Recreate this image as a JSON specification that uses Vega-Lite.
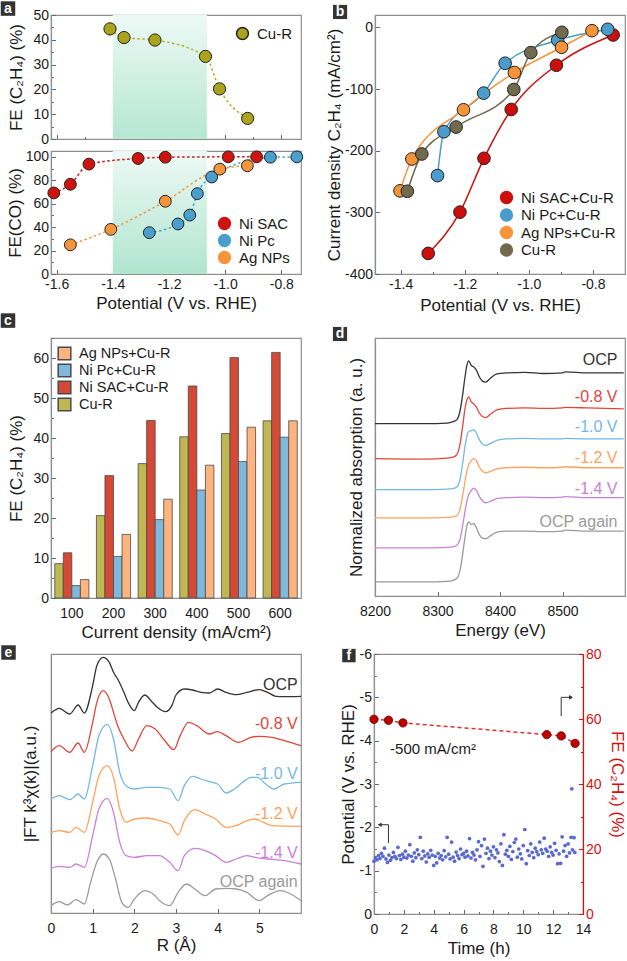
{
"$schema": "https://vega.github.io/schema/vega-lite/v6.json",
"padding": 0,
"background": "white",
"config": {
  "font": "Liberation Sans",
  "view": {"stroke": "#8f8f8f", "strokeWidth": 1.2},
  "axis": {"labelFont": "Liberation Sans", "titleFont": "Liberation Sans", "labelFontSize": 14, "titleFontSize": 17, "titleFontWeight": "normal", "labelColor": "#1a1a1a", "titleColor": "#1a1a1a", "domainColor": "#8f8f8f", "domainWidth": 1.2, "tickColor": "#666666", "tickWidth": 1, "grid": false, "labelFlush": false, "labelOverlap": false, "labelPadding": 3, "titlePadding": 4},
  "axisX": {"labelOverlap": false},
  "axisY": {"labelOverlap": false},
  "legend": {"labelFont": "Liberation Sans", "labelFontSize": 15, "labelColor": "#1a1a1a"},
  "text": {"font": "Liberation Sans"}
},
"datasets": {
  "aTop": [
    {"series": "Cu-R", "potential": -1.41, "fe": 44.4},
    {"series": "Cu-R", "potential": -1.36, "fe": 40.9},
    {"series": "Cu-R", "potential": -1.25, "fe": 39.9},
    {"series": "Cu-R", "potential": -1.07, "fe": 33.3},
    {"series": "Cu-R", "potential": -1.02, "fe": 20.2},
    {"series": "Cu-R", "potential": -0.92, "fe": 8.3}
  ],
  "aBot": [
    {"series": "Ni SAC", "potential": -1.61, "fe": 69.2},
    {"series": "Ni SAC", "potential": -1.551, "fe": 76.6},
    {"series": "Ni SAC", "potential": -1.485, "fe": 93.8},
    {"series": "Ni SAC", "potential": -1.31, "fe": 98.6},
    {"series": "Ni SAC", "potential": -1.213, "fe": 99.7},
    {"series": "Ni SAC", "potential": -0.989, "fe": 100},
    {"series": "Ni SAC", "potential": -0.888, "fe": 100},
    {"series": "Ni Pc", "potential": -1.27, "fe": 35.3},
    {"series": "Ni Pc", "potential": -1.168, "fe": 42.7},
    {"series": "Ni Pc", "potential": -1.126, "fe": 50.3},
    {"series": "Ni Pc", "potential": -1.099, "fe": 68.6},
    {"series": "Ni Pc", "potential": -1.048, "fe": 82.8},
    {"series": "Ni Pc", "potential": -0.839, "fe": 99.7},
    {"series": "Ni Pc", "potential": -0.745, "fe": 100},
    {"series": "Ag NPs", "potential": -1.551, "fe": 24.9},
    {"series": "Ag NPs", "potential": -1.407, "fe": 38.1},
    {"series": "Ag NPs", "potential": -1.213, "fe": 62.1},
    {"series": "Ag NPs", "potential": -1.019, "fe": 89.5},
    {"series": "Ag NPs", "potential": -0.921, "fe": 92.4}
  ],
  "bData": [
    {"series": "Ni SAC+Cu-R", "potential": -1.314, "j": -366.6},
    {"series": "Ni SAC+Cu-R", "potential": -1.215, "j": -299.7},
    {"series": "Ni SAC+Cu-R", "potential": -1.14, "j": -212.4},
    {"series": "Ni SAC+Cu-R", "potential": -1.055, "j": -133.2},
    {"series": "Ni SAC+Cu-R", "potential": -0.914, "j": -61.5},
    {"series": "Ni SAC+Cu-R", "potential": -0.737, "j": -12.4},
    {"series": "Ni Pc+Cu-R", "potential": -1.285, "j": -240.4},
    {"series": "Ni Pc+Cu-R", "potential": -1.265, "j": -169.3},
    {"series": "Ni Pc+Cu-R", "potential": -1.141, "j": -106.7},
    {"series": "Ni Pc+Cu-R", "potential": -1.074, "j": -58.2},
    {"series": "Ni Pc+Cu-R", "potential": -0.91, "j": -21.0},
    {"series": "Ni Pc+Cu-R", "potential": -0.754, "j": -3.2},
    {"series": "Ag NPs+Cu-R", "potential": -1.402, "j": -265.2},
    {"series": "Ag NPs+Cu-R", "potential": -1.365, "j": -213.5},
    {"series": "Ag NPs+Cu-R", "potential": -1.204, "j": -133.7},
    {"series": "Ag NPs+Cu-R", "potential": -1.045, "j": -73.3},
    {"series": "Ag NPs+Cu-R", "potential": -0.898, "j": -32.3},
    {"series": "Ag NPs+Cu-R", "potential": -0.803, "j": -5.4},
    {"series": "Cu-R", "potential": -1.379, "j": -265.8},
    {"series": "Cu-R", "potential": -1.334, "j": -205.4},
    {"series": "Cu-R", "potential": -1.227, "j": -161.7},
    {"series": "Cu-R", "potential": -1.047, "j": -100.8},
    {"series": "Cu-R", "potential": -0.994, "j": -41.0},
    {"series": "Cu-R", "potential": -0.897, "j": -8.1}
  ],
  "cData": [
    {"density": 100, "cat": "Cu-R", "fe": 8.6}, {"density": 100, "cat": "Ni SAC+Cu-R", "fe": 11.3}, {"density": 100, "cat": "Ni Pc+Cu-R", "fe": 3.1}, {"density": 100, "cat": "Ag NPs+Cu-R", "fe": 4.6},
    {"density": 200, "cat": "Cu-R", "fe": 20.6}, {"density": 200, "cat": "Ni SAC+Cu-R", "fe": 30.6}, {"density": 200, "cat": "Ni Pc+Cu-R", "fe": 10.4}, {"density": 200, "cat": "Ag NPs+Cu-R", "fe": 15.9},
    {"density": 300, "cat": "Cu-R", "fe": 33.6}, {"density": 300, "cat": "Ni SAC+Cu-R", "fe": 44.4}, {"density": 300, "cat": "Ni Pc+Cu-R", "fe": 19.6}, {"density": 300, "cat": "Ag NPs+Cu-R", "fe": 24.7},
    {"density": 400, "cat": "Cu-R", "fe": 40.3}, {"density": 400, "cat": "Ni SAC+Cu-R", "fe": 53.0}, {"density": 400, "cat": "Ni Pc+Cu-R", "fe": 27.0}, {"density": 400, "cat": "Ag NPs+Cu-R", "fe": 33.2},
    {"density": 500, "cat": "Cu-R", "fe": 41.1}, {"density": 500, "cat": "Ni SAC+Cu-R", "fe": 60.1}, {"density": 500, "cat": "Ni Pc+Cu-R", "fe": 34.1}, {"density": 500, "cat": "Ag NPs+Cu-R", "fe": 42.7},
    {"density": 600, "cat": "Cu-R", "fe": 44.3}, {"density": 600, "cat": "Ni SAC+Cu-R", "fe": 61.4}, {"density": 600, "cat": "Ni Pc+Cu-R", "fe": 40.2}, {"density": 600, "cat": "Ag NPs+Cu-R", "fe": 44.3}
  ],
  "dData": [
    {"c": "OCP", "e": 8200, "v": 3.40}, {"c": "OCP", "e": 8280, "v": 3.40}, {"c": "OCP", "e": 8315, "v": 3.41}, {"c": "OCP", "e": 8325, "v": 3.44}, {"c": "OCP", "e": 8331, "v": 3.48}, {"c": "OCP", "e": 8336, "v": 3.65}, {"c": "OCP", "e": 8340, "v": 3.95}, {"c": "OCP", "e": 8344, "v": 4.32}, {"c": "OCP", "e": 8347, "v": 4.55}, {"c": "OCP", "e": 8350, "v": 4.64}, {"c": "OCP", "e": 8354, "v": 4.55}, {"c": "OCP", "e": 8358, "v": 4.52}, {"c": "OCP", "e": 8362, "v": 4.46}, {"c": "OCP", "e": 8367, "v": 4.32}, {"c": "OCP", "e": 8372, "v": 4.24}, {"c": "OCP", "e": 8377, "v": 4.22}, {"c": "OCP", "e": 8385, "v": 4.30}, {"c": "OCP", "e": 8395, "v": 4.38}, {"c": "OCP", "e": 8410, "v": 4.40}, {"c": "OCP", "e": 8440, "v": 4.41}, {"c": "OCP", "e": 8470, "v": 4.39}, {"c": "OCP", "e": 8500, "v": 4.40}, {"c": "OCP", "e": 8504, "v": 4.42}, {"c": "OCP", "e": 8540, "v": 4.40}, {"c": "OCP", "e": 8598, "v": 4.40},
    {"c": "-0.8 V", "e": 8200, "v": 2.71}, {"c": "-0.8 V", "e": 8280, "v": 2.70}, {"c": "-0.8 V", "e": 8315, "v": 2.72}, {"c": "-0.8 V", "e": 8325, "v": 2.74}, {"c": "-0.8 V", "e": 8331, "v": 2.79}, {"c": "-0.8 V", "e": 8336, "v": 2.99}, {"c": "-0.8 V", "e": 8340, "v": 3.33}, {"c": "-0.8 V", "e": 8344, "v": 3.69}, {"c": "-0.8 V", "e": 8347, "v": 3.87}, {"c": "-0.8 V", "e": 8350, "v": 3.93}, {"c": "-0.8 V", "e": 8354, "v": 3.83}, {"c": "-0.8 V", "e": 8358, "v": 3.79}, {"c": "-0.8 V", "e": 8362, "v": 3.73}, {"c": "-0.8 V", "e": 8367, "v": 3.61}, {"c": "-0.8 V", "e": 8372, "v": 3.54}, {"c": "-0.8 V", "e": 8377, "v": 3.52}, {"c": "-0.8 V", "e": 8385, "v": 3.59}, {"c": "-0.8 V", "e": 8395, "v": 3.67}, {"c": "-0.8 V", "e": 8410, "v": 3.70}, {"c": "-0.8 V", "e": 8440, "v": 3.71}, {"c": "-0.8 V", "e": 8470, "v": 3.70}, {"c": "-0.8 V", "e": 8500, "v": 3.71}, {"c": "-0.8 V", "e": 8504, "v": 3.72}, {"c": "-0.8 V", "e": 8540, "v": 3.71}, {"c": "-0.8 V", "e": 8598, "v": 3.69},
    {"c": "-1.0 V", "e": 8200, "v": 2.10}, {"c": "-1.0 V", "e": 8280, "v": 2.10}, {"c": "-1.0 V", "e": 8315, "v": 2.11}, {"c": "-1.0 V", "e": 8325, "v": 2.12}, {"c": "-1.0 V", "e": 8331, "v": 2.15}, {"c": "-1.0 V", "e": 8336, "v": 2.30}, {"c": "-1.0 V", "e": 8340, "v": 2.60}, {"c": "-1.0 V", "e": 8344, "v": 2.95}, {"c": "-1.0 V", "e": 8347, "v": 3.15}, {"c": "-1.0 V", "e": 8350, "v": 3.25}, {"c": "-1.0 V", "e": 8354, "v": 3.26}, {"c": "-1.0 V", "e": 8358, "v": 3.28}, {"c": "-1.0 V", "e": 8362, "v": 3.22}, {"c": "-1.0 V", "e": 8367, "v": 3.08}, {"c": "-1.0 V", "e": 8372, "v": 3.00}, {"c": "-1.0 V", "e": 8377, "v": 2.97}, {"c": "-1.0 V", "e": 8385, "v": 3.01}, {"c": "-1.0 V", "e": 8395, "v": 3.07}, {"c": "-1.0 V", "e": 8410, "v": 3.10}, {"c": "-1.0 V", "e": 8440, "v": 3.11}, {"c": "-1.0 V", "e": 8470, "v": 3.10}, {"c": "-1.0 V", "e": 8500, "v": 3.10}, {"c": "-1.0 V", "e": 8504, "v": 3.11}, {"c": "-1.0 V", "e": 8540, "v": 3.10}, {"c": "-1.0 V", "e": 8598, "v": 3.10},
    {"c": "-1.2 V", "e": 8200, "v": 1.54}, {"c": "-1.2 V", "e": 8280, "v": 1.54}, {"c": "-1.2 V", "e": 8315, "v": 1.55}, {"c": "-1.2 V", "e": 8325, "v": 1.56}, {"c": "-1.2 V", "e": 8331, "v": 1.59}, {"c": "-1.2 V", "e": 8336, "v": 1.71}, {"c": "-1.2 V", "e": 8340, "v": 1.96}, {"c": "-1.2 V", "e": 8344, "v": 2.26}, {"c": "-1.2 V", "e": 8347, "v": 2.46}, {"c": "-1.2 V", "e": 8350, "v": 2.59}, {"c": "-1.2 V", "e": 8354, "v": 2.67}, {"c": "-1.2 V", "e": 8358, "v": 2.71}, {"c": "-1.2 V", "e": 8362, "v": 2.67}, {"c": "-1.2 V", "e": 8367, "v": 2.54}, {"c": "-1.2 V", "e": 8372, "v": 2.46}, {"c": "-1.2 V", "e": 8377, "v": 2.43}, {"c": "-1.2 V", "e": 8385, "v": 2.46}, {"c": "-1.2 V", "e": 8395, "v": 2.51}, {"c": "-1.2 V", "e": 8410, "v": 2.53}, {"c": "-1.2 V", "e": 8440, "v": 2.54}, {"c": "-1.2 V", "e": 8470, "v": 2.53}, {"c": "-1.2 V", "e": 8500, "v": 2.54}, {"c": "-1.2 V", "e": 8504, "v": 2.55}, {"c": "-1.2 V", "e": 8540, "v": 2.53}, {"c": "-1.2 V", "e": 8598, "v": 2.53},
    {"c": "-1.4 V", "e": 8200, "v": 0.95}, {"c": "-1.4 V", "e": 8280, "v": 0.95}, {"c": "-1.4 V", "e": 8315, "v": 0.96}, {"c": "-1.4 V", "e": 8325, "v": 0.97}, {"c": "-1.4 V", "e": 8331, "v": 1.00}, {"c": "-1.4 V", "e": 8336, "v": 1.12}, {"c": "-1.4 V", "e": 8340, "v": 1.37}, {"c": "-1.4 V", "e": 8344, "v": 1.67}, {"c": "-1.4 V", "e": 8347, "v": 1.87}, {"c": "-1.4 V", "e": 8350, "v": 2.00}, {"c": "-1.4 V", "e": 8354, "v": 2.08}, {"c": "-1.4 V", "e": 8358, "v": 2.13}, {"c": "-1.4 V", "e": 8362, "v": 2.09}, {"c": "-1.4 V", "e": 8367, "v": 1.96}, {"c": "-1.4 V", "e": 8372, "v": 1.88}, {"c": "-1.4 V", "e": 8377, "v": 1.84}, {"c": "-1.4 V", "e": 8385, "v": 1.87}, {"c": "-1.4 V", "e": 8395, "v": 1.92}, {"c": "-1.4 V", "e": 8410, "v": 1.94}, {"c": "-1.4 V", "e": 8440, "v": 1.95}, {"c": "-1.4 V", "e": 8470, "v": 1.94}, {"c": "-1.4 V", "e": 8500, "v": 1.95}, {"c": "-1.4 V", "e": 8504, "v": 1.96}, {"c": "-1.4 V", "e": 8540, "v": 1.94}, {"c": "-1.4 V", "e": 8598, "v": 1.94},
    {"c": "OCP again", "e": 8200, "v": 0.28}, {"c": "OCP again", "e": 8280, "v": 0.28}, {"c": "OCP again", "e": 8315, "v": 0.29}, {"c": "OCP again", "e": 8325, "v": 0.31}, {"c": "OCP again", "e": 8331, "v": 0.35}, {"c": "OCP again", "e": 8336, "v": 0.50}, {"c": "OCP again", "e": 8340, "v": 0.80}, {"c": "OCP again", "e": 8344, "v": 1.16}, {"c": "OCP again", "e": 8347, "v": 1.38}, {"c": "OCP again", "e": 8350, "v": 1.46}, {"c": "OCP again", "e": 8354, "v": 1.41}, {"c": "OCP again", "e": 8358, "v": 1.43}, {"c": "OCP again", "e": 8362, "v": 1.35}, {"c": "OCP again", "e": 8367, "v": 1.21}, {"c": "OCP again", "e": 8372, "v": 1.14}, {"c": "OCP again", "e": 8377, "v": 1.13}, {"c": "OCP again", "e": 8385, "v": 1.19}, {"c": "OCP again", "e": 8395, "v": 1.26}, {"c": "OCP again", "e": 8410, "v": 1.28}, {"c": "OCP again", "e": 8440, "v": 1.28}, {"c": "OCP again", "e": 8470, "v": 1.27}, {"c": "OCP again", "e": 8500, "v": 1.28}, {"c": "OCP again", "e": 8504, "v": 1.30}, {"c": "OCP again", "e": 8540, "v": 1.28}, {"c": "OCP again", "e": 8598, "v": 1.28}
  ],
  "dLab": [
    {"c": "OCP", "x": 8588, "y": 4.65}, {"c": "-0.8 V", "x": 8588, "y": 3.93}, {"c": "-1.0 V", "x": 8588, "y": 3.34}, {"c": "-1.2 V", "x": 8588, "y": 2.73}, {"c": "-1.4 V", "x": 8588, "y": 2.12}, {"c": "OCP again", "x": 8588, "y": 1.46}
  ],
  "eData": [
    {"c": "OCP", "r": 0, "v": 6.00}, {"c": "OCP", "r": 0.2, "v": 6.14}, {"c": "OCP", "r": 0.45, "v": 5.97}, {"c": "OCP", "r": 0.65, "v": 6.24}, {"c": "OCP", "r": 0.8, "v": 6.00}, {"c": "OCP", "r": 1.0, "v": 6.82}, {"c": "OCP", "r": 1.1, "v": 7.42}, {"c": "OCP", "r": 1.25, "v": 7.67}, {"c": "OCP", "r": 1.4, "v": 7.52}, {"c": "OCP", "r": 1.5, "v": 7.22}, {"c": "OCP", "r": 1.6, "v": 7.02}, {"c": "OCP", "r": 1.75, "v": 6.62}, {"c": "OCP", "r": 1.85, "v": 6.32}, {"c": "OCP", "r": 2.0, "v": 6.07}, {"c": "OCP", "r": 2.1, "v": 6.32}, {"c": "OCP", "r": 2.25, "v": 6.54}, {"c": "OCP", "r": 2.4, "v": 6.37}, {"c": "OCP", "r": 2.55, "v": 6.17}, {"c": "OCP", "r": 2.75, "v": 6.04}, {"c": "OCP", "r": 2.9, "v": 6.22}, {"c": "OCP", "r": 3.0, "v": 6.54}, {"c": "OCP", "r": 3.2, "v": 6.72}, {"c": "OCP", "r": 3.4, "v": 6.69}, {"c": "OCP", "r": 3.6, "v": 6.62}, {"c": "OCP", "r": 3.8, "v": 6.60}, {"c": "OCP", "r": 4.0, "v": 6.72}, {"c": "OCP", "r": 4.2, "v": 6.62}, {"c": "OCP", "r": 4.45, "v": 6.55}, {"c": "OCP", "r": 4.7, "v": 6.62}, {"c": "OCP", "r": 5.0, "v": 6.70}, {"c": "OCP", "r": 5.2, "v": 6.62}, {"c": "OCP", "r": 5.4, "v": 6.50}, {"c": "OCP", "r": 5.6, "v": 6.49}, {"c": "OCP", "r": 6.0, "v": 6.50},
    {"c": "-0.8 V", "r": 0, "v": 4.84}, {"c": "-0.8 V", "r": 0.2, "v": 5.02}, {"c": "-0.8 V", "r": 0.45, "v": 4.82}, {"c": "-0.8 V", "r": 0.65, "v": 5.10}, {"c": "-0.8 V", "r": 0.8, "v": 4.82}, {"c": "-0.8 V", "r": 1.0, "v": 5.72}, {"c": "-0.8 V", "r": 1.1, "v": 6.32}, {"c": "-0.8 V", "r": 1.25, "v": 6.67}, {"c": "-0.8 V", "r": 1.4, "v": 6.42}, {"c": "-0.8 V", "r": 1.5, "v": 6.02}, {"c": "-0.8 V", "r": 1.6, "v": 5.62}, {"c": "-0.8 V", "r": 1.75, "v": 5.22}, {"c": "-0.8 V", "r": 1.95, "v": 4.86}, {"c": "-0.8 V", "r": 2.1, "v": 5.22}, {"c": "-0.8 V", "r": 2.3, "v": 5.62}, {"c": "-0.8 V", "r": 2.5, "v": 5.52}, {"c": "-0.8 V", "r": 2.7, "v": 5.22}, {"c": "-0.8 V", "r": 2.95, "v": 4.90}, {"c": "-0.8 V", "r": 3.1, "v": 5.32}, {"c": "-0.8 V", "r": 3.3, "v": 5.72}, {"c": "-0.8 V", "r": 3.5, "v": 5.62}, {"c": "-0.8 V", "r": 3.8, "v": 5.37}, {"c": "-0.8 V", "r": 4.0, "v": 5.44}, {"c": "-0.8 V", "r": 4.2, "v": 5.32}, {"c": "-0.8 V", "r": 4.5, "v": 5.12}, {"c": "-0.8 V", "r": 4.8, "v": 5.27}, {"c": "-0.8 V", "r": 5.0, "v": 5.30}, {"c": "-0.8 V", "r": 5.3, "v": 5.27}, {"c": "-0.8 V", "r": 5.6, "v": 5.17}, {"c": "-0.8 V", "r": 6.0, "v": 5.02},
    {"c": "-1.0 V", "r": 0, "v": 3.42}, {"c": "-1.0 V", "r": 0.2, "v": 3.52}, {"c": "-1.0 V", "r": 0.45, "v": 3.40}, {"c": "-1.0 V", "r": 0.65, "v": 3.57}, {"c": "-1.0 V", "r": 0.8, "v": 3.42}, {"c": "-1.0 V", "r": 1.0, "v": 4.42}, {"c": "-1.0 V", "r": 1.15, "v": 5.32}, {"c": "-1.0 V", "r": 1.35, "v": 5.66}, {"c": "-1.0 V", "r": 1.5, "v": 5.22}, {"c": "-1.0 V", "r": 1.65, "v": 4.22}, {"c": "-1.0 V", "r": 1.8, "v": 3.82}, {"c": "-1.0 V", "r": 2.0, "v": 3.72}, {"c": "-1.0 V", "r": 2.3, "v": 3.77}, {"c": "-1.0 V", "r": 2.6, "v": 3.77}, {"c": "-1.0 V", "r": 2.85, "v": 3.72}, {"c": "-1.0 V", "r": 3.05, "v": 3.37}, {"c": "-1.0 V", "r": 3.2, "v": 3.82}, {"c": "-1.0 V", "r": 3.4, "v": 4.10}, {"c": "-1.0 V", "r": 3.6, "v": 4.02}, {"c": "-1.0 V", "r": 3.8, "v": 3.94}, {"c": "-1.0 V", "r": 4.0, "v": 3.87}, {"c": "-1.0 V", "r": 4.2, "v": 3.60}, {"c": "-1.0 V", "r": 4.4, "v": 3.72}, {"c": "-1.0 V", "r": 4.6, "v": 3.92}, {"c": "-1.0 V", "r": 4.8, "v": 4.07}, {"c": "-1.0 V", "r": 4.95, "v": 4.07}, {"c": "-1.0 V", "r": 5.15, "v": 3.87}, {"c": "-1.0 V", "r": 5.35, "v": 3.72}, {"c": "-1.0 V", "r": 5.6, "v": 3.87}, {"c": "-1.0 V", "r": 6.0, "v": 3.92},
    {"c": "-1.2 V", "r": 0, "v": 2.42}, {"c": "-1.2 V", "r": 0.2, "v": 2.47}, {"c": "-1.2 V", "r": 0.45, "v": 2.42}, {"c": "-1.2 V", "r": 0.6, "v": 2.57}, {"c": "-1.2 V", "r": 0.8, "v": 2.42}, {"c": "-1.2 V", "r": 1.0, "v": 3.32}, {"c": "-1.2 V", "r": 1.15, "v": 4.12}, {"c": "-1.2 V", "r": 1.35, "v": 4.42}, {"c": "-1.2 V", "r": 1.5, "v": 4.07}, {"c": "-1.2 V", "r": 1.65, "v": 3.12}, {"c": "-1.2 V", "r": 1.8, "v": 2.72}, {"c": "-1.2 V", "r": 2.0, "v": 2.82}, {"c": "-1.2 V", "r": 2.3, "v": 2.85}, {"c": "-1.2 V", "r": 2.6, "v": 2.77}, {"c": "-1.2 V", "r": 2.85, "v": 2.67}, {"c": "-1.2 V", "r": 3.05, "v": 2.34}, {"c": "-1.2 V", "r": 3.2, "v": 2.77}, {"c": "-1.2 V", "r": 3.45, "v": 3.10}, {"c": "-1.2 V", "r": 3.7, "v": 2.97}, {"c": "-1.2 V", "r": 3.95, "v": 2.82}, {"c": "-1.2 V", "r": 4.2, "v": 2.57}, {"c": "-1.2 V", "r": 4.45, "v": 2.62}, {"c": "-1.2 V", "r": 4.7, "v": 2.77}, {"c": "-1.2 V", "r": 4.9, "v": 2.82}, {"c": "-1.2 V", "r": 5.1, "v": 2.72}, {"c": "-1.2 V", "r": 5.3, "v": 2.62}, {"c": "-1.2 V", "r": 6.0, "v": 2.60},
    {"c": "-1.4 V", "r": 0, "v": 1.34}, {"c": "-1.4 V", "r": 0.2, "v": 1.40}, {"c": "-1.4 V", "r": 0.45, "v": 1.37}, {"c": "-1.4 V", "r": 0.6, "v": 1.47}, {"c": "-1.4 V", "r": 0.8, "v": 1.37}, {"c": "-1.4 V", "r": 1.0, "v": 2.32}, {"c": "-1.4 V", "r": 1.15, "v": 3.12}, {"c": "-1.4 V", "r": 1.35, "v": 3.44}, {"c": "-1.4 V", "r": 1.5, "v": 3.02}, {"c": "-1.4 V", "r": 1.65, "v": 2.12}, {"c": "-1.4 V", "r": 1.8, "v": 1.72}, {"c": "-1.4 V", "r": 2.0, "v": 1.67}, {"c": "-1.4 V", "r": 2.3, "v": 1.72}, {"c": "-1.4 V", "r": 2.6, "v": 1.72}, {"c": "-1.4 V", "r": 2.85, "v": 1.52}, {"c": "-1.4 V", "r": 3.05, "v": 1.27}, {"c": "-1.4 V", "r": 3.2, "v": 1.72}, {"c": "-1.4 V", "r": 3.45, "v": 1.94}, {"c": "-1.4 V", "r": 3.7, "v": 1.87}, {"c": "-1.4 V", "r": 3.95, "v": 1.72}, {"c": "-1.4 V", "r": 4.2, "v": 1.52}, {"c": "-1.4 V", "r": 4.45, "v": 1.62}, {"c": "-1.4 V", "r": 4.7, "v": 1.72}, {"c": "-1.4 V", "r": 4.9, "v": 1.67}, {"c": "-1.4 V", "r": 5.2, "v": 1.62}, {"c": "-1.4 V", "r": 5.6, "v": 1.57}, {"c": "-1.4 V", "r": 6.0, "v": 1.47},
    {"c": "OCP again", "r": 0, "v": 0.22}, {"c": "OCP again", "r": 0.2, "v": 0.34}, {"c": "OCP again", "r": 0.4, "v": 0.24}, {"c": "OCP again", "r": 0.6, "v": 0.40}, {"c": "OCP again", "r": 0.8, "v": 0.27}, {"c": "OCP again", "r": 0.95, "v": 0.92}, {"c": "OCP again", "r": 1.1, "v": 1.52}, {"c": "OCP again", "r": 1.25, "v": 1.77}, {"c": "OCP again", "r": 1.4, "v": 1.62}, {"c": "OCP again", "r": 1.55, "v": 1.02}, {"c": "OCP again", "r": 1.7, "v": 0.32}, {"c": "OCP again", "r": 1.85, "v": 0.17}, {"c": "OCP again", "r": 2.0, "v": 0.42}, {"c": "OCP again", "r": 2.25, "v": 0.67}, {"c": "OCP again", "r": 2.45, "v": 0.57}, {"c": "OCP again", "r": 2.65, "v": 0.32}, {"c": "OCP again", "r": 2.85, "v": 0.22}, {"c": "OCP again", "r": 3.05, "v": 0.62}, {"c": "OCP again", "r": 3.25, "v": 0.87}, {"c": "OCP again", "r": 3.45, "v": 0.72}, {"c": "OCP again", "r": 3.7, "v": 0.52}, {"c": "OCP again", "r": 3.95, "v": 0.72}, {"c": "OCP again", "r": 4.2, "v": 0.74}, {"c": "OCP again", "r": 4.45, "v": 0.72}, {"c": "OCP again", "r": 4.7, "v": 0.62}, {"c": "OCP again", "r": 5.0, "v": 0.37}, {"c": "OCP again", "r": 5.2, "v": 0.52}, {"c": "OCP again", "r": 5.5, "v": 0.67}, {"c": "OCP again", "r": 5.75, "v": 0.57}, {"c": "OCP again", "r": 6.0, "v": 0.37}
  ],
  "eLab": [
    {"c": "OCP", "x": 5.92, "y": 6.84}, {"c": "-0.8 V", "x": 5.92, "y": 5.67}, {"c": "-1.0 V", "x": 5.92, "y": 4.17}, {"c": "-1.2 V", "x": 5.92, "y": 2.97}, {"c": "-1.4 V", "x": 5.92, "y": 1.79}, {"c": "OCP again", "x": 5.92, "y": 0.94}
  ],
  "fBlue": [
    {"t": 0.0, "p": -1.22}, {"t": 0.1, "p": -1.30}, {"t": 0.2, "p": -1.25}, {"t": 0.3, "p": -1.35}, {"t": 0.4, "p": -1.28}, {"t": 0.5, "p": -1.40}, {"t": 0.6, "p": -1.33}, {"t": 0.7, "p": -1.52}, {"t": 0.8, "p": -1.27}, {"t": 0.9, "p": -1.19},
    {"t": 1.0, "p": -1.36}, {"t": 1.1, "p": -1.24}, {"t": 1.2, "p": -1.30}, {"t": 1.3, "p": -1.42}, {"t": 1.4, "p": -1.33}, {"t": 1.5, "p": -1.28}, {"t": 1.6, "p": -1.54}, {"t": 1.7, "p": -1.35}, {"t": 1.8, "p": -1.26}, {"t": 1.9, "p": -1.38},
    {"t": 2.0, "p": -1.31}, {"t": 2.1, "p": -1.45}, {"t": 2.2, "p": -1.29}, {"t": 2.3, "p": -1.36}, {"t": 2.4, "p": -1.60}, {"t": 2.5, "p": -1.33}, {"t": 2.6, "p": -1.22}, {"t": 2.7, "p": -1.41}, {"t": 2.8, "p": -1.30}, {"t": 2.9, "p": -1.48},
    {"t": 3.0, "p": -1.37}, {"t": 3.1, "p": -1.77}, {"t": 3.2, "p": -1.28}, {"t": 3.3, "p": -1.45}, {"t": 3.4, "p": -1.34}, {"t": 3.5, "p": -1.20}, {"t": 3.6, "p": -1.39}, {"t": 3.7, "p": -1.31}, {"t": 3.8, "p": -1.47}, {"t": 3.9, "p": -1.36},
    {"t": 4.0, "p": -1.12}, {"t": 4.1, "p": -1.33}, {"t": 4.2, "p": -1.18}, {"t": 4.3, "p": -1.40}, {"t": 4.4, "p": -1.29}, {"t": 4.5, "p": -1.35}, {"t": 4.6, "p": -1.25}, {"t": 4.7, "p": -1.46}, {"t": 4.8, "p": -1.32}, {"t": 4.9, "p": -1.77},
    {"t": 5.0, "p": -1.38}, {"t": 5.1, "p": -1.27}, {"t": 5.2, "p": -1.66}, {"t": 5.3, "p": -1.31}, {"t": 5.4, "p": -1.22}, {"t": 5.5, "p": -1.43}, {"t": 5.6, "p": -1.35}, {"t": 5.7, "p": -1.28}, {"t": 5.8, "p": -1.50}, {"t": 5.9, "p": -1.37},
    {"t": 6.0, "p": -1.40}, {"t": 6.1, "p": -1.31}, {"t": 6.2, "p": -1.45}, {"t": 6.3, "p": -1.34}, {"t": 6.4, "p": -1.74}, {"t": 6.5, "p": -1.29}, {"t": 6.6, "p": -1.42}, {"t": 6.7, "p": -1.36}, {"t": 6.8, "p": -1.25}, {"t": 6.9, "p": -1.48},
    {"t": 7.0, "p": -1.67}, {"t": 7.1, "p": -1.33}, {"t": 7.2, "p": -1.58}, {"t": 7.3, "p": -1.10}, {"t": 7.4, "p": -1.73}, {"t": 7.5, "p": -1.40}, {"t": 7.6, "p": -1.52}, {"t": 7.7, "p": -1.28}, {"t": 7.8, "p": -1.45}, {"t": 7.9, "p": -1.36},
    {"t": 8.0, "p": -1.55}, {"t": 8.1, "p": -1.30}, {"t": 8.2, "p": -1.48}, {"t": 8.3, "p": -1.41}, {"t": 8.4, "p": -1.21}, {"t": 8.5, "p": -1.62}, {"t": 8.6, "p": -1.12}, {"t": 8.7, "p": -1.83}, {"t": 8.8, "p": -1.38}, {"t": 8.9, "p": -1.47},
    {"t": 9.0, "p": -1.33}, {"t": 9.1, "p": -1.56}, {"t": 9.2, "p": -1.26}, {"t": 9.3, "p": -1.44}, {"t": 9.4, "p": -1.65}, {"t": 9.5, "p": -1.73}, {"t": 9.6, "p": -1.31}, {"t": 9.7, "p": -1.50}, {"t": 9.8, "p": -1.39}, {"t": 9.9, "p": -1.27},
    {"t": 10.0, "p": -1.58}, {"t": 10.1, "p": -1.95}, {"t": 10.2, "p": -1.16}, {"t": 10.3, "p": -1.46}, {"t": 10.4, "p": -1.35}, {"t": 10.5, "p": -1.62}, {"t": 10.6, "p": -1.42}, {"t": 10.7, "p": -1.30}, {"t": 10.8, "p": -1.52}, {"t": 10.9, "p": -1.44},
    {"t": 11.0, "p": -1.37}, {"t": 11.1, "p": -1.66}, {"t": 11.2, "p": -1.48}, {"t": 11.3, "p": -1.40}, {"t": 11.4, "p": -1.75}, {"t": 11.5, "p": -1.50}, {"t": 11.6, "p": -1.45}, {"t": 11.7, "p": -1.33}, {"t": 11.8, "p": -1.55}, {"t": 11.9, "p": -1.42},
    {"t": 12.0, "p": -1.36}, {"t": 12.1, "p": -1.63}, {"t": 12.2, "p": -1.47}, {"t": 12.3, "p": -1.16}, {"t": 12.4, "p": -1.39}, {"t": 12.5, "p": -1.17}, {"t": 12.6, "p": -1.78}, {"t": 12.7, "p": -1.45}, {"t": 12.8, "p": -1.58}, {"t": 12.9, "p": -1.33},
    {"t": 13.0, "p": -1.62}, {"t": 13.1, "p": -1.41}, {"t": 13.2, "p": -1.77}, {"t": 13.25, "p": -2.89}, {"t": 13.3, "p": -1.48}, {"t": 13.4, "p": -1.76}, {"t": 13.45, "p": -1.42}
  ],
  "fRed": [
    {"t": 0, "fe": 59.9}, {"t": 0.97, "fe": 59.6}, {"t": 1.94, "fe": 58.8}, {"t": 11.57, "fe": 55.2}, {"t": 12.54, "fe": 54.8}, {"t": 13.47, "fe": 52.5}
  ],
  "fArrow": [
    {"g": "L", "i": 0, "t": 0.97, "p": -1.64}, {"g": "L", "i": 1, "t": 0.97, "p": -2.06}, {"g": "L", "i": 2, "t": 0.45, "p": -2.06},
    {"g": "R", "i": 0, "t": 12.54, "p": -4.57}, {"g": "R", "i": 1, "t": 12.54, "p": -5.0}, {"g": "R", "i": 2, "t": 13.1, "p": -5.0}
  ],
  "fHead": [
    {"t": 0.38, "p": -2.06, "shape": "triangle-left"}, {"t": 13.2, "p": -5.0, "shape": "triangle-right"}
  ]
},
"spacing": -3,
"resolve": {"scale": {"color": "independent"}, "legend": {"color": "independent"}},
"vconcat": [
 {
  "spacing": 18,
  "resolve": {"scale": {"color": "independent"}, "legend": {"color": "independent"}},
  "hconcat": [
   {
    "spacing": 12,
    "bounds": "flush",
    "resolve": {"scale": {"color": "independent"}, "legend": {"color": "independent"}},
    "vconcat": [
     {
      "width": 250, "height": 124,
      "resolve": {"scale": {"x": "independent", "y": "independent"}},
      "layer": [
       {
        "layer": [
         {"data": {"values": [{"lo": -1.4, "hi": -1.065}]},
          "mark": {"type": "rect", "fill": {"gradient": "linear", "x1": 0, "y1": 0, "x2": 0, "y2": 1, "stops": [{"offset": 0, "color": "#edf9f5"}, {"offset": 1, "color": "#b5e7d3"}]}},
          "encoding": {
            "x": {"field": "lo", "type": "quantitative", "scale": {"domain": [-1.62, -0.73], "nice": false},
                  "axis": {"values": [-1.6, -1.5, -1.4, -1.3, -1.2, -1.1, -1.0, -0.9, -0.8], "labels": false, "title": null, "labelOverlap": false,
                           "tickSize": {"condition": {"test": "abs(round(datum.value*10)) % 2 == 1", "value": -2.5}, "value": -4.5}}},
            "x2": {"field": "hi"},
            "y": {"datum": 0, "type": "quantitative", "scale": {"domain": [0, 50], "nice": false},
                  "axis": {"values": [0, 5, 10, 15, 20, 25, 30, 35, 40, 45, 50], "labelExpr": "datum.value % 10 == 0 ? datum.label : ''", "title": "FE (C₂H₄) (%)", "titlePadding": 7, "labelPadding": 7, "labelOverlap": false,
                           "tickSize": {"condition": {"test": "datum.value % 10 != 0", "value": -2.5}, "value": -4.5}}},
            "y2": {"datum": 50}}},
         {"data": {"name": "aTop"},
          "mark": {"type": "line", "color": "#b3ab28", "strokeDash": [2.5, 2.5], "strokeWidth": 1.5, "interpolate": "monotone"},
          "encoding": {
            "x": {"field": "potential", "type": "quantitative",
                  "axis": {"values": [-1.6, -1.5, -1.4, -1.3, -1.2, -1.1, -1.0, -0.9, -0.8], "labels": false, "title": null, "labelOverlap": false,
                           "tickSize": {"condition": {"test": "abs(round(datum.value*10)) % 2 == 1", "value": -2.5}, "value": -4.5}}},
            "y": {"field": "fe", "type": "quantitative",
                  "axis": {"values": [0, 5, 10, 15, 20, 25, 30, 35, 40, 45, 50], "labelExpr": "datum.value % 10 == 0 ? datum.label : ''", "title": "FE (C₂H₄) (%)", "titlePadding": 7, "labelPadding": 7, "labelOverlap": false,
                           "tickSize": {"condition": {"test": "datum.value % 10 != 0", "value": -2.5}, "value": -4.5}}}}},
         {"data": {"name": "aTop"},
          "mark": {"type": "point", "filled": true, "size": 150, "stroke": "#222222", "strokeWidth": 1, "opacity": 1},
          "encoding": {
            "x": {"field": "potential", "type": "quantitative",
                  "axis": {"values": [-1.6, -1.5, -1.4, -1.3, -1.2, -1.1, -1.0, -0.9, -0.8], "labels": false, "title": null, "labelOverlap": false,
                           "tickSize": {"condition": {"test": "abs(round(datum.value*10)) % 2 == 1", "value": -2.5}, "value": -4.5}}},
            "y": {"field": "fe", "type": "quantitative",
                  "axis": {"values": [0, 5, 10, 15, 20, 25, 30, 35, 40, 45, 50], "labelExpr": "datum.value % 10 == 0 ? datum.label : ''", "title": "FE (C₂H₄) (%)", "titlePadding": 7, "labelPadding": 7, "labelOverlap": false,
                           "tickSize": {"condition": {"test": "datum.value % 10 != 0", "value": -2.5}, "value": -4.5}}},
            "color": {"field": "series", "type": "nominal", "scale": {"domain": ["Cu-R"], "range": ["#aba31c"]},
                      "legend": {"orient": "none", "legendX": 184, "legendY": 11, "title": null, "symbolType": "circle", "symbolSize": 140, "labelOffset": 7, "labelFontSize": 15,
                                 "encode": {"symbols": {"update": {"stroke": {"value": "#222222"}, "strokeWidth": {"value": 1}}}}}}}}
        ]
       },
       {"data": {"values": [{}]}, "mark": {"type": "point", "shape": "square", "filled": true, "size": 210, "color": "#333333", "opacity": 1},
        "encoding": {"x": {"datum": -0.172, "type": "quantitative", "scale": {"domain": [0, 1], "nice": false}, "axis": null}, "y": {"datum": 1.052, "type": "quantitative", "scale": {"domain": [0, 1], "nice": false}, "axis": null}}},
       {"data": {"values": [{}]}, "mark": {"type": "text", "text": "a", "color": "white", "fontWeight": "bold", "fontSize": 14, "align": "center", "baseline": "middle"},
        "encoding": {"x": {"datum": -0.172, "type": "quantitative", "scale": {"domain": [0, 1], "nice": false}, "axis": null}, "y": {"datum": 1.052, "type": "quantitative", "scale": {"domain": [0, 1], "nice": false}, "axis": null}}}
      ]
     },
     {
      "width": 250, "height": 123,
      "layer": [
       {"data": {"values": [{"lo": -1.4, "hi": -1.065}]},
        "mark": {"type": "rect", "fill": {"gradient": "linear", "x1": 0, "y1": 0, "x2": 0, "y2": 1, "stops": [{"offset": 0, "color": "#edf9f5"}, {"offset": 1, "color": "#b0e5d0"}]}},
        "encoding": {
          "x": {"field": "lo", "type": "quantitative", "scale": {"domain": [-1.62, -0.73], "nice": false},
                "axis": {"values": [-1.6, -1.5, -1.4, -1.3, -1.2, -1.1, -1.0, -0.9, -0.8], "labelOverlap": false, "labelPadding": 8,
                         "labelExpr": "abs(round(datum.value*10)) % 2 == 0 ? replace(format(datum.value, '.1f'), '−', '-') : ''",
                         "title": "Potential (V vs. RHE)",
                         "tickSize": {"condition": {"test": "abs(round(datum.value*10)) % 2 == 1", "value": -2.5}, "value": -4.5}}},
          "x2": {"field": "hi"},
          "y": {"datum": 0, "type": "quantitative", "scale": {"domain": [0, 105], "nice": false},
                "axis": {"values": [0, 10, 20, 30, 40, 50, 60, 70, 80, 90, 100], "labelExpr": "datum.value % 20 == 0 ? datum.label : ''", "title": "FE(CO) (%)", "titlePadding": 1, "labelPadding": 7, "labelOverlap": false,
                         "tickSize": {"condition": {"test": "datum.value % 20 != 0", "value": -2.5}, "value": -4.5}}},
          "y2": {"datum": 105}}},
       {"data": {"name": "aBot"},
        "mark": {"type": "line", "strokeDash": [2.5, 2.5], "strokeWidth": 1.5, "interpolate": "monotone"},
        "encoding": {
          "x": {"field": "potential", "type": "quantitative"},
          "y": {"field": "fe", "type": "quantitative",
                "axis": {"values": [0, 10, 20, 30, 40, 50, 60, 70, 80, 90, 100], "labelExpr": "datum.value % 20 == 0 ? datum.label : ''", "title": "FE(CO) (%)", "titlePadding": 1, "labelPadding": 7, "labelOverlap": false,
                         "tickSize": {"condition": {"test": "datum.value % 20 != 0", "value": -2.5}, "value": -4.5}}},
          "color": {"field": "series", "type": "nominal", "scale": {"domain": ["Ni SAC", "Ni Pc", "Ag NPs"], "range": ["#cf1410", "#4aa0cc", "#f7953c"]}}}},
       {"data": {"name": "aBot"},
        "mark": {"type": "point", "filled": true, "size": 140, "stroke": "#222222", "strokeWidth": 1, "opacity": 1},
        "encoding": {
          "x": {"field": "potential", "type": "quantitative"},
          "y": {"field": "fe", "type": "quantitative",
                "axis": {"values": [0, 10, 20, 30, 40, 50, 60, 70, 80, 90, 100], "labelExpr": "datum.value % 20 == 0 ? datum.label : ''", "title": "FE(CO) (%)", "titlePadding": 1, "labelPadding": 7, "labelOverlap": false,
                         "tickSize": {"condition": {"test": "datum.value % 20 != 0", "value": -2.5}, "value": -4.5}}},
          "color": {"field": "series", "type": "nominal",
                    "legend": {"orient": "none", "legendX": 166, "legendY": 65, "title": null, "symbolType": "circle", "symbolSize": 140, "rowPadding": -2, "labelOffset": 7, "labelFontSize": 15,
                               "encode": {"symbols": {"update": {"stroke": {"value": "#222222"}, "strokeWidth": {"value": 1}, "strokeDash": {"value": []}}}}}}}}
      ]
     }
    ]
   },
   {
    "width": 250, "height": 259,
    "layer": [
     {"data": {"name": "bData"},
      "mark": {"type": "line", "strokeWidth": 1.5, "interpolate": "monotone"},
      "encoding": {
        "x": {"field": "potential", "type": "quantitative", "scale": {"domain": [-1.48, -0.7], "nice": false},
              "axis": {"values": [-1.4, -1.3, -1.2, -1.1, -1.0, -0.9, -0.8], "labelOverlap": false, "labelPadding": 8,
                       "labelExpr": "abs(round(datum.value*10)) % 2 == 0 ? replace(format(datum.value, '.1f'), '−', '-') : ''",
                       "title": "Potential (V vs. RHE)",
                       "tickSize": {"condition": {"test": "abs(round(datum.value*10)) % 2 == 1", "value": -2.5}, "value": -4.5}}},
        "y": {"field": "j", "type": "quantitative", "scale": {"domain": [-400, 20], "nice": false},
              "axis": {"values": [-400, -350, -300, -250, -200, -150, -100, -50, 0], "labelOverlap": false, "labelPadding": 7,
                       "labelExpr": "datum.value % 100 == 0 ? replace(datum.label, '−', '-') : ''",
                       "title": "Current density C₂H₄ (mA/cm²)", "titlePadding": 1,
                       "tickSize": {"condition": {"test": "datum.value % 100 != 0", "value": -2.5}, "value": -4.5}}},
        "color": {"field": "series", "type": "nominal", "scale": {"domain": ["Ni SAC+Cu-R", "Ni Pc+Cu-R", "Ag NPs+Cu-R", "Cu-R"], "range": ["#cc0f0c", "#4a9ccc", "#f7943a", "#726a4c"]}}}},
     {"data": {"name": "bData"},
      "mark": {"type": "point", "filled": true, "size": 160, "stroke": "#222222", "strokeWidth": 1, "opacity": 1},
      "encoding": {
        "x": {"field": "potential", "type": "quantitative"},
        "y": {"field": "j", "type": "quantitative"},
        "color": {"field": "series", "type": "nominal",
                  "legend": {"orient": "none", "legendX": 124, "legendY": 175, "title": null, "symbolType": "circle", "symbolSize": 140, "rowPadding": -1.5, "labelOffset": 7, "labelFontSize": 15,
                             "encode": {"symbols": {"update": {"stroke": {"value": "#222222"}, "strokeWidth": {"value": 1}}}}}}}},
     {"data": {"values": [{}]}, "mark": {"type": "point", "shape": "square", "filled": true, "size": 200, "color": "#333333", "opacity": 1},
      "encoding": {"x": {"datum": -1.589}, "y": {"datum": 24.9}}},
     {"data": {"values": [{}]}, "mark": {"type": "text", "text": "b", "color": "white", "fontWeight": "bold", "fontSize": 14, "align": "center", "baseline": "middle"},
      "encoding": {"x": {"datum": -1.589}, "y": {"datum": 24.9}}}
    ]
   }
  ]
 },
 {
  "spacing": 3,
  "resolve": {"scale": {"color": "independent"}, "legend": {"color": "independent"}},
  "vconcat": [
   {
    "spacing": 30,
    "resolve": {"scale": {"color": "independent"}, "legend": {"color": "independent"}},
    "hconcat": [
     {
      "width": 250, "height": 260,
      "resolve": {"scale": {"x": "independent", "y": "independent"}},
      "layer": [
       {"data": {"name": "cData"},
        "mark": {"type": "bar", "stroke": "#4a4a4a", "strokeWidth": 0.8, "opacity": 1},
        "encoding": {
          "x": {"field": "density", "type": "ordinal", "scale": {"paddingInner": 0.18, "paddingOuter": 0.09},
                "axis": {"labelAngle": 0, "ticks": false, "title": "Current density (mA/cm²)", "labelPadding": 8}},
          "xOffset": {"field": "cat", "type": "nominal", "sort": ["Cu-R", "Ni SAC+Cu-R", "Ni Pc+Cu-R", "Ag NPs+Cu-R"]},
          "y": {"field": "fe", "type": "quantitative", "scale": {"domain": [0, 65], "nice": false},
                "axis": {"values": [0, 5, 10, 15, 20, 25, 30, 35, 40, 45, 50, 55, 60, 65], "labelOverlap": false, "labelPadding": 7,
                         "labelExpr": "datum.value % 10 == 0 ? datum.label : ''",
                         "title": "FE (C₂H₄) (%)", "titlePadding": 7,
                         "tickSize": {"condition": {"test": "datum.value % 10 != 0", "value": -2.5}, "value": -4.5}}},
          "color": {"field": "cat", "type": "nominal",
                    "scale": {"domain": ["Ag NPs+Cu-R", "Ni Pc+Cu-R", "Ni SAC+Cu-R", "Cu-R"], "range": ["#fdb47f", "#7fbadc", "#d44a36", "#bfb752"]},
                    "legend": {"orient": "none", "legendX": 6, "legendY": 8, "title": null, "symbolType": "square", "symbolSize": 160, "rowPadding": -6, "labelOffset": 7, "labelFontSize": 14.5,
                               "encode": {"symbols": {"update": {"stroke": {"value": "#4a4a4a"}, "strokeWidth": {"value": 0.8}}}}}}}},
       {"data": {"values": [{}]}, "mark": {"type": "point", "shape": "square", "filled": true, "size": 210, "color": "#333333", "opacity": 1},
        "encoding": {"x": {"datum": -0.172, "type": "quantitative", "scale": {"domain": [0, 1], "nice": false}, "axis": null}, "y": {"datum": 1.067, "type": "quantitative", "scale": {"domain": [0, 1], "nice": false}, "axis": null}}},
       {"data": {"values": [{}]}, "mark": {"type": "text", "text": "c", "color": "white", "fontWeight": "bold", "fontSize": 14, "align": "center", "baseline": "middle"},
        "encoding": {"x": {"datum": -0.172, "type": "quantitative", "scale": {"domain": [0, 1], "nice": false}, "axis": null}, "y": {"datum": 1.067, "type": "quantitative", "scale": {"domain": [0, 1], "nice": false}, "axis": null}}}
      ]
     },
     {
      "width": 250, "height": 258,
      "layer": [
       {"data": {"name": "dData"},
        "mark": {"type": "line", "strokeWidth": 1.3, "interpolate": "monotone"},
        "encoding": {
          "x": {"field": "e", "type": "quantitative", "scale": {"domain": [8200, 8600], "nice": false},
                "axis": {"values": [8200, 8250, 8300, 8350, 8400, 8450, 8500, 8550], "labelOverlap": false, "labelPadding": 13,
                         "labelExpr": "datum.value % 100 == 0 ? format(datum.value, 'd') : ''",
                         "title": "Energy (eV)",
                         "tickSize": {"condition": {"test": "datum.value % 100 != 0", "value": -2.5}, "value": -4.5}}},
          "y": {"field": "v", "type": "quantitative", "scale": {"domain": [0, 5.09], "nice": false},
                "axis": {"labels": false, "ticks": false, "title": "Normalized absorption (a. u.)", "titlePadding": 10}},
          "color": {"field": "c", "type": "nominal", "legend": null,
                    "scale": {"domain": ["OCP", "-0.8 V", "-1.0 V", "-1.2 V", "-1.4 V", "OCP again"], "range": ["#333333", "#e0463a", "#74b8e2", "#ffa25e", "#c981d8", "#9a9a9a"]}}}},
       {"data": {"name": "dLab"},
        "mark": {"type": "text", "align": "right", "baseline": "middle", "fontSize": 16},
        "encoding": {
          "x": {"field": "x", "type": "quantitative"},
          "y": {"field": "y", "type": "quantitative"},
          "text": {"field": "c"},
          "color": {"field": "c", "type": "nominal", "legend": null}}},
       {"data": {"values": [{}]}, "mark": {"type": "point", "shape": "square", "filled": true, "size": 200, "color": "#333333", "opacity": 1},
        "encoding": {"x": {"datum": 8144}, "y": {"datum": 5.169}}},
       {"data": {"values": [{}]}, "mark": {"type": "text", "text": "d", "color": "white", "fontWeight": "bold", "fontSize": 14, "align": "center", "baseline": "middle"},
        "encoding": {"x": {"datum": 8144}, "y": {"datum": 5.169}}}
      ]
     }
    ]
   },
   {
    "spacing": 33,
    "resolve": {"scale": {"color": "independent"}, "legend": {"color": "independent"}},
    "hconcat": [
     {
      "width": 250, "height": 259,
      "layer": [
       {"data": {"name": "eData"},
        "mark": {"type": "line", "strokeWidth": 1.3, "interpolate": "monotone"},
        "encoding": {
          "x": {"field": "r", "type": "quantitative", "scale": {"domain": [0, 6], "nice": false},
                "axis": {"values": [0, 0.5, 1, 1.5, 2, 2.5, 3, 3.5, 4, 4.5, 5, 5.5], "labelOverlap": false, "labelPadding": 13,
                         "labelExpr": "datum.value % 1 == 0 ? format(datum.value, 'd') : ''",
                         "title": "R (Å)", "titlePadding": 2,
                         "tickSize": {"condition": {"test": "datum.value % 1 != 0", "value": -2.5}, "value": -4.5}}},
          "y": {"field": "v", "type": "quantitative", "scale": {"domain": [0, 7.77], "nice": false},
                "axis": {"labels": false, "ticks": false, "title": "|FT k³χ(k)|(a.u.)", "titlePadding": 12}},
          "color": {"field": "c", "type": "nominal", "legend": null,
                    "scale": {"domain": ["OCP", "-0.8 V", "-1.0 V", "-1.2 V", "-1.4 V", "OCP again"], "range": ["#333333", "#e0463a", "#74b8e2", "#ffa25e", "#c981d8", "#9a9a9a"]}}}},
       {"data": {"name": "eLab"},
        "mark": {"type": "text", "align": "right", "baseline": "middle", "fontSize": 16},
        "encoding": {
          "x": {"field": "x", "type": "quantitative"},
          "y": {"field": "y", "type": "quantitative"},
          "text": {"field": "c"},
          "color": {"field": "c", "type": "nominal", "legend": null}}},
       {"data": {"values": [{}]}, "mark": {"type": "point", "shape": "square", "filled": true, "size": 210, "color": "#333333", "opacity": 1},
        "encoding": {"x": {"datum": -1.02}, "y": {"datum": 7.815}}},
       {"data": {"values": [{}]}, "mark": {"type": "text", "text": "e", "color": "white", "fontWeight": "bold", "fontSize": 14, "align": "center", "baseline": "middle"},
        "encoding": {"x": {"datum": -1.02}, "y": {"datum": 7.815}}}
      ]
     },
     {
      "width": 209, "height": 260,
      "resolve": {"scale": {"x": "independent", "y": "independent"}},
      "layer": [
       {
        "resolve": {"scale": {"y": "independent"}},
        "layer": [
         {
          "layer": [
           {"data": {"name": "fBlue"},
            "mark": {"type": "point", "filled": true, "size": 14, "color": "#5a68cf", "opacity": 1},
            "encoding": {
              "x": {"field": "t", "type": "quantitative", "scale": {"domain": [0, 14], "nice": false},
                    "axis": {"values": [0, 1, 2, 3, 4, 5, 6, 7, 8, 9, 10, 11, 12, 13, 14], "labelOverlap": false, "labelPadding": 13,
                             "labelExpr": "datum.value % 2 == 0 ? format(datum.value, 'd') : ''",
                             "title": "Time (h)", "titlePadding": 2,
                             "tickSize": {"condition": {"test": "datum.value % 2 != 0", "value": -2.5}, "value": -4.5}}},
              "y": {"field": "p", "type": "quantitative", "scale": {"domain": [-6, 0], "reverse": true, "nice": false},
                    "axis": {"values": [-6, -5.5, -5, -4.5, -4, -3.5, -3, -2.5, -2, -1.5, -1, -0.5, 0], "labelOverlap": false, "labelPadding": 7,
                             "labelExpr": "datum.value % 1 == 0 ? replace(format(datum.value, 'd'), '−', '-') : ''",
                             "title": "Potential (V vs. RHE)", "titlePadding": 2,
                             "tickSize": {"condition": {"test": "datum.value % 1 != 0", "value": -2.5}, "value": -4.5}}}}},
           {"data": {"name": "fArrow"},
            "mark": {"type": "line", "color": "#333333", "strokeWidth": 1},
            "encoding": {
              "x": {"field": "t", "type": "quantitative",
                    "axis": {"values": [0, 1, 2, 3, 4, 5, 6, 7, 8, 9, 10, 11, 12, 13, 14], "labelOverlap": false, "labelPadding": 13,
                             "labelExpr": "datum.value % 2 == 0 ? format(datum.value, 'd') : ''",
                             "title": "Time (h)", "titlePadding": 2,
                             "tickSize": {"condition": {"test": "datum.value % 2 != 0", "value": -2.5}, "value": -4.5}}},
              "y": {"field": "p", "type": "quantitative",
                    "axis": {"values": [-6, -5.5, -5, -4.5, -4, -3.5, -3, -2.5, -2, -1.5, -1, -0.5, 0], "labelOverlap": false, "labelPadding": 7,
                             "labelExpr": "datum.value % 1 == 0 ? replace(format(datum.value, 'd'), '−', '-') : ''",
                             "title": "Potential (V vs. RHE)", "titlePadding": 2,
                             "tickSize": {"condition": {"test": "datum.value % 1 != 0", "value": -2.5}, "value": -4.5}}},
              "detail": {"field": "g"},
              "order": {"field": "i"}}},
           {"data": {"name": "fHead"},
            "mark": {"type": "point", "filled": true, "size": 22, "color": "#333333", "opacity": 1},
            "encoding": {
              "x": {"field": "t", "type": "quantitative",
                    "axis": {"values": [0, 1, 2, 3, 4, 5, 6, 7, 8, 9, 10, 11, 12, 13, 14], "labelOverlap": false, "labelPadding": 13,
                             "labelExpr": "datum.value % 2 == 0 ? format(datum.value, 'd') : ''",
                             "title": "Time (h)", "titlePadding": 2,
                             "tickSize": {"condition": {"test": "datum.value % 2 != 0", "value": -2.5}, "value": -4.5}}},
              "y": {"field": "p", "type": "quantitative",
                    "axis": {"values": [-6, -5.5, -5, -4.5, -4, -3.5, -3, -2.5, -2, -1.5, -1, -0.5, 0], "labelOverlap": false, "labelPadding": 7,
                             "labelExpr": "datum.value % 1 == 0 ? replace(format(datum.value, 'd'), '−', '-') : ''",
                             "title": "Potential (V vs. RHE)", "titlePadding": 2,
                             "tickSize": {"condition": {"test": "datum.value % 1 != 0", "value": -2.5}, "value": -4.5}}},
              "shape": {"field": "shape", "type": "nominal", "scale": null}}},
           {"data": {"values": [{"label": "-500 mA/cm²", "t": 1.08, "p": -3.8}]},
            "mark": {"type": "text", "align": "left", "baseline": "middle", "fontSize": 15, "color": "#1a1a1a"},
            "encoding": {
              "x": {"field": "t", "type": "quantitative",
                    "axis": {"values": [0, 1, 2, 3, 4, 5, 6, 7, 8, 9, 10, 11, 12, 13, 14], "labelOverlap": false, "labelPadding": 13,
                             "labelExpr": "datum.value % 2 == 0 ? format(datum.value, 'd') : ''",
                             "title": "Time (h)", "titlePadding": 2,
                             "tickSize": {"condition": {"test": "datum.value % 2 != 0", "value": -2.5}, "value": -4.5}}},
              "y": {"field": "p", "type": "quantitative",
                    "axis": {"values": [-6, -5.5, -5, -4.5, -4, -3.5, -3, -2.5, -2, -1.5, -1, -0.5, 0], "labelOverlap": false, "labelPadding": 7,
                             "labelExpr": "datum.value % 1 == 0 ? replace(format(datum.value, 'd'), '−', '-') : ''",
                             "title": "Potential (V vs. RHE)", "titlePadding": 2,
                             "tickSize": {"condition": {"test": "datum.value % 1 != 0", "value": -2.5}, "value": -4.5}}},
              "text": {"field": "label"}}}
          ]
         },
         {
          "layer": [
           {"data": {"name": "fRed"},
            "mark": {"type": "line", "color": "#e03030", "strokeDash": [4, 3], "strokeWidth": 1.5},
            "encoding": {
              "x": {"field": "t", "type": "quantitative",
                    "axis": {"values": [0, 1, 2, 3, 4, 5, 6, 7, 8, 9, 10, 11, 12, 13, 14], "labelOverlap": false, "labelPadding": 13,
                             "labelExpr": "datum.value % 2 == 0 ? format(datum.value, 'd') : ''",
                             "title": "Time (h)", "titlePadding": 2,
                             "tickSize": {"condition": {"test": "datum.value % 2 != 0", "value": -2.5}, "value": -4.5}}},
              "y": {"field": "fe", "type": "quantitative", "scale": {"domain": [0, 80], "nice": false},
                    "axis": {"orient": "right", "values": [0, 10, 20, 30, 40, 50, 60, 70, 80], "labelOverlap": false, "labelPadding": 7, "titlePadding": 6,
                             "labelExpr": "datum.value % 20 == 0 ? format(datum.value, 'd') : ''",
                             "title": "FE (C₂H₄) (%)", "titleColor": "#d41010", "labelColor": "#d41010", "domainColor": "#d41010", "tickColor": "#d41010",
                             "tickSize": {"condition": {"test": "datum.value % 20 != 0", "value": -2.5}, "value": -4.5}}}}},
           {"data": {"name": "fRed"},
            "mark": {"type": "point", "filled": true, "size": 70, "color": "#c00000", "stroke": "#5a0000", "strokeWidth": 0.8, "opacity": 1},
            "encoding": {
              "x": {"field": "t", "type": "quantitative",
                    "axis": {"values": [0, 1, 2, 3, 4, 5, 6, 7, 8, 9, 10, 11, 12, 13, 14], "labelOverlap": false, "labelPadding": 13,
                             "labelExpr": "datum.value % 2 == 0 ? format(datum.value, 'd') : ''",
                             "title": "Time (h)", "titlePadding": 2,
                             "tickSize": {"condition": {"test": "datum.value % 2 != 0", "value": -2.5}, "value": -4.5}}},
              "y": {"field": "fe", "type": "quantitative",
                    "axis": {"orient": "right", "values": [0, 10, 20, 30, 40, 50, 60, 70, 80], "labelOverlap": false, "labelPadding": 7, "titlePadding": 6,
                             "labelExpr": "datum.value % 20 == 0 ? format(datum.value, 'd') : ''",
                             "title": "FE (C₂H₄) (%)", "titleColor": "#d41010", "labelColor": "#d41010", "domainColor": "#d41010", "tickColor": "#d41010",
                             "tickSize": {"condition": {"test": "datum.value % 20 != 0", "value": -2.5}, "value": -4.5}}}}}
          ]
         }
        ]
       },
       {"data": {"values": [{}]}, "mark": {"type": "point", "shape": "square", "filled": true, "size": 180, "color": "#333333", "opacity": 1},
        "encoding": {"x": {"datum": -0.12, "type": "quantitative", "scale": {"domain": [0, 1], "nice": false}, "axis": null}, "y": {"datum": 0.994, "type": "quantitative", "scale": {"domain": [0, 1], "nice": false}, "axis": null}}},
       {"data": {"values": [{}]}, "mark": {"type": "text", "text": "f", "color": "white", "fontWeight": "bold", "fontSize": 14, "align": "center", "baseline": "middle"},
        "encoding": {"x": {"datum": -0.12, "type": "quantitative", "scale": {"domain": [0, 1], "nice": false}, "axis": null}, "y": {"datum": 0.994, "type": "quantitative", "scale": {"domain": [0, 1], "nice": false}, "axis": null}}}
      ]
     }
    ]
   }
  ]
 }
]
}
